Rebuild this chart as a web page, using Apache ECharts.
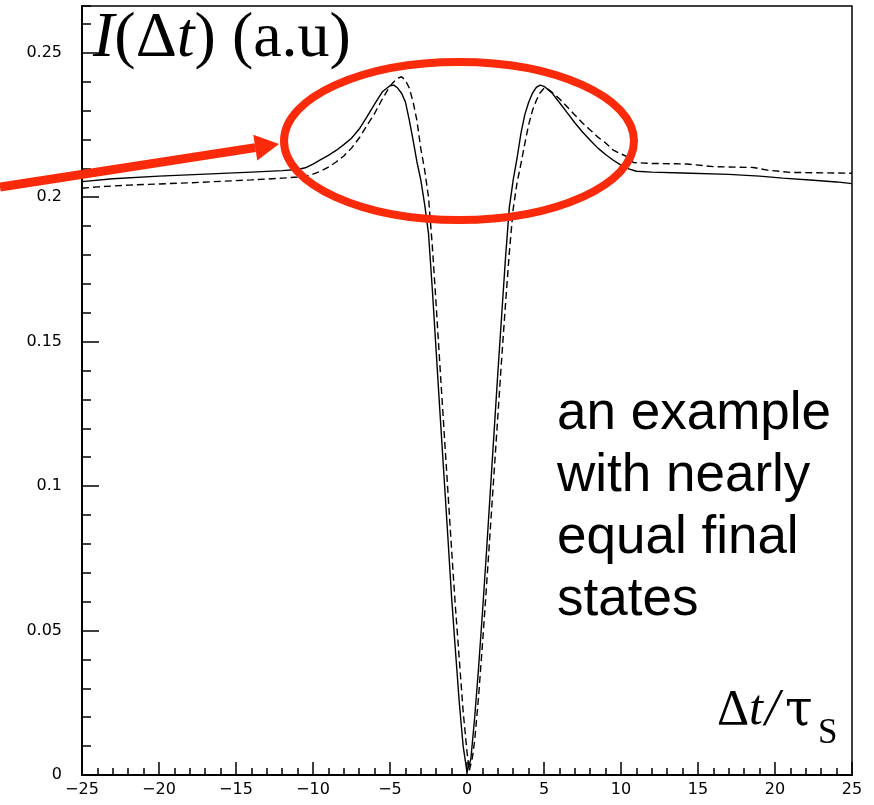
<!DOCTYPE html>
<html>
<head>
<meta charset="utf-8">
<script src="https://cdn.jsdelivr.net/npm/echarts@6/dist/echarts.min.js"></script>
<style>
  html, body { margin: 0; padding: 0; background: #fff; }
  #chart { width: 874px; height: 805px; }
</style>
</head>
<body>
<div id="chart"></div>
<script>
// Solid curve: I(Δt) sampled along Δt/τS
const SOLID_T = [
  -25, -23, -20, -17, -14, -12, -11, -10.5, -10, -9.5, -9, -8.5, -8, -7.5, -7, -6.5,
  -6, -5.5, -5, -4.75, -4.5, -4.25, -4, -3.75, -3.5, -3.25, -3, -2.75, -2.5, -2.25,
  -2, -1.75, -1.5, -1.25, -1, -0.75, -0.5, -0.25, 0, 0.25, 0.5, 0.75, 1, 1.25, 1.5,
  1.75, 2, 2.25, 2.5, 2.75, 3, 3.25, 3.5, 3.75, 4, 4.25, 4.5, 4.75, 5, 5.5, 6, 6.5,
  7, 7.5, 8, 8.5, 9, 9.5, 10, 10.5, 11, 12, 14, 17, 19, 20.5, 22.5, 24, 25
];
const SOLID_I = [
  0.2054, 0.2064, 0.2073, 0.2080, 0.2087, 0.2092, 0.2096, 0.2102, 0.2115, 0.2130,
  0.2145, 0.2162, 0.2182, 0.2204, 0.2236, 0.2278,
  0.2322, 0.2365, 0.2386, 0.2388, 0.2378, 0.2360, 0.2330, 0.2268, 0.2198, 0.2122,
  0.2060, 0.1975, 0.1875, 0.1680,
  0.1465, 0.1250, 0.1040, 0.0830, 0.0615, 0.0430, 0.0250, 0.0100, 0.0010, 0.0055,
  0.0200, 0.0370, 0.0560, 0.0760, 0.0970,
  0.1180, 0.1390, 0.1590, 0.1790, 0.1965, 0.2060, 0.2135, 0.2220, 0.2285, 0.2328,
  0.2360, 0.2380, 0.2388, 0.2384, 0.2362, 0.2328, 0.2293,
  0.2258, 0.2226, 0.2197, 0.2170, 0.2148, 0.2128, 0.2111, 0.2098, 0.2090, 0.2087,
  0.2084, 0.2079, 0.2073, 0.2066, 0.2059, 0.2053, 0.2047
];

// Dashed curve
const DASHED_T = [
  -25, -24, -22, -18, -14, -12, -11, -10.5, -10, -9.5, -9, -8.5, -8, -7.5, -7, -6.5,
  -6, -5.5, -5, -4.75, -4.5, -4.25, -4, -3.75, -3.5, -3.25, -3, -2.75, -2.5, -2.25,
  -2, -1.75, -1.5, -1.25, -1, -0.75, -0.5, -0.25, 0, 0.15, 0.35, 0.5, 0.75, 1, 1.25,
  1.5, 1.75, 2, 2.25, 2.5, 2.75, 3, 3.25, 3.5, 3.75, 4, 4.25, 4.5, 4.75, 5, 5.25,
  5.5, 6, 6.5, 7, 7.5, 8, 8.5, 9, 9.5, 10, 10.5, 10.8, 12, 14.3, 16, 18.6, 19.5, 21, 25
];
const DASHED_I = [
  0.2031, 0.2036, 0.2042, 0.2050, 0.2060, 0.2066, 0.2070, 0.2073, 0.2080, 0.2090,
  0.2104, 0.2122, 0.2143, 0.2170, 0.2205, 0.2248,
  0.2290, 0.2340, 0.2385, 0.2400, 0.2412, 0.2417, 0.2405, 0.2378, 0.2330, 0.2265,
  0.2168, 0.2095, 0.2000, 0.1830,
  0.1625, 0.1410, 0.1200, 0.0990, 0.0780, 0.0580, 0.0400, 0.0220, 0.0080, 0.0015,
  0.0060, 0.0120, 0.0270, 0.0450, 0.0640,
  0.0840, 0.1040, 0.1240, 0.1440, 0.1630, 0.1810, 0.1960, 0.2050, 0.2115, 0.2185,
  0.2250, 0.2300, 0.2335, 0.2362, 0.2377, 0.2375,
  0.2364, 0.2341, 0.2313, 0.2285, 0.2257, 0.2233, 0.2208, 0.2188, 0.2163, 0.2150,
  0.2138, 0.2120, 0.2117, 0.2115, 0.2106, 0.2103, 0.2094, 0.2086, 0.2083
];

// Axis ranges and ticks
const X_MIN = -25, X_MAX = 25, X_STEP = 5;
const Y_MIN = 0, Y_MAX = 0.2662, Y_STEP = 0.05, Y_MINOR_STEP = 0.01;

const pairs = (xs, ys) => xs.map((x, i) => [x, ys[i]]);

const chart = echarts.init(document.getElementById('chart'), null, { renderer: 'canvas' });

const RED = '#fb2a0a';
const labelFont = { fontFamily: 'DejaVu Sans', fontSize: 16, color: '#000' };

// arrow geometry (pixels)
const tail = [0, 187], tip = [279, 144];
const dx = tip[0] - tail[0], dy = tip[1] - tail[1];
const len = Math.hypot(dx, dy);
const ux = dx / len, uy = dy / len;
const headLen = 24, headHalf = 13;
const base = [tip[0] - headLen * ux, tip[1] - headLen * uy];
const headPts = [
  tip,
  [base[0] - headHalf * uy, base[1] + headHalf * ux],
  [base[0] + headHalf * uy, base[1] - headHalf * ux]
];

const serif = 'Liberation Serif';
const glyph = (text, x, y, size, italic, family) => ({
  type: 'text', z: 50,
  style: {
    x: x, y: y, verticalAlign: 'middle', align: 'left', text: text,
    fontFamily: family || serif, fontSize: size,
    fontStyle: italic ? 'italic' : 'normal', fill: '#000'
  }
});

chart.setOption({
  animation: false,
  backgroundColor: '#fff',
  grid: {
    left: 82, right: 22, top: 6, bottom: 30,
    show: true, borderColor: '#000', borderWidth: 1.5
  },
  xAxis: {
    type: 'value', min: X_MIN, max: X_MAX, interval: X_STEP,
    axisLine: { show: true, onZero: false, lineStyle: { color: '#000', width: 2 } },
    axisTick: { show: true, inside: true, length: 13, lineStyle: { color: '#000', width: 1.5 } },
    minorTick: { show: true, splitNumber: 5, length: 7, lineStyle: { color: '#000', width: 1.5 } },
    splitLine: { show: false },
    axisLabel: Object.assign({}, labelFont, {
      margin: 7,
      formatter: v => (v < 0 ? '\u2212' + (-v) : String(v))
    })
  },
  yAxis: [
    {
      type: 'value', min: Y_MIN, max: Y_MAX, interval: Y_STEP,
      axisLine: { show: true, onZero: false, lineStyle: { color: '#000', width: 2 } },
      axisTick: { show: true, inside: true, length: 17, lineStyle: { color: '#000', width: 1.5 } },
      splitLine: { show: false },
      axisLabel: Object.assign({}, labelFont, {
        margin: 20, showMaxLabel: false,
        formatter: v => {
          const k = Math.round(v / Y_STEP);
          return Math.abs(v - k * Y_STEP) < 1e-9 ? String(+v.toFixed(2)) : '';
        }
      })
    },
    {
      type: 'value', position: 'left', min: Y_MIN, max: Y_MAX, interval: Y_MINOR_STEP,
      axisLine: { show: false, onZero: false },
      axisTick: { show: true, inside: true, length: 9, lineStyle: { color: '#000', width: 1.5 } },
      splitLine: { show: false },
      axisLabel: { show: false }
    }
  ],
  series: [
    {
      type: 'line', symbol: 'none', yAxisIndex: 0,
      data: pairs(SOLID_T, SOLID_I),
      lineStyle: { color: '#000', width: 1.4 },
      z: 3
    },
    {
      type: 'line', symbol: 'none', yAxisIndex: 0,
      data: pairs(DASHED_T, DASHED_I),
      lineStyle: { color: '#000', width: 1.4, type: [7, 4] },
      z: 3
    }
  ],
  graphic: [
    {
      type: 'text', z: 50,
      style: {
        x: 93, y: 39, verticalAlign: 'middle', align: 'left',
        text: '{i|I}{n|(Δ}{i|t}{n|) (a.u)}',
        rich: {
          i: { fontFamily: serif, fontSize: 64, fontStyle: 'italic', fill: '#000' },
          n: { fontFamily: serif, fontSize: 64, fill: '#000' }
        }
      }
    },
    {
      type: 'text', z: 50,
      style: {
        x: 557, y: 384, verticalAlign: 'top', align: 'left',
        text: 'an example\nwith nearly\nequal final\nstates',
        fontFamily: 'Liberation Sans', fontSize: 53, lineHeight: 61.7, fill: '#000'
      }
    },
    // x-axis title Δt/τS
    glyph('Δ', 717, 711, 50, false),
    glyph('t', 749, 711, 50, true),
    glyph('/', 765, 711, 52, true),
    glyph('τ', 785, 712, 50, false, 'DejaVu Serif'),
    glyph('S', 818, 734, 35, false),
    {
      type: 'ellipse', z: 60,
      shape: { cx: 459, cy: 141, rx: 175, ry: 79 },
      style: { fill: 'none', stroke: RED, lineWidth: 8 }
    },
    {
      type: 'line', z: 60,
      shape: { x1: tail[0], y1: tail[1], x2: base[0], y2: base[1] },
      style: { stroke: RED, lineWidth: 9 }
    },
    {
      type: 'polygon', z: 60,
      shape: { points: headPts },
      style: { fill: RED }
    }
  ]
});
</script>
</body>
</html>
